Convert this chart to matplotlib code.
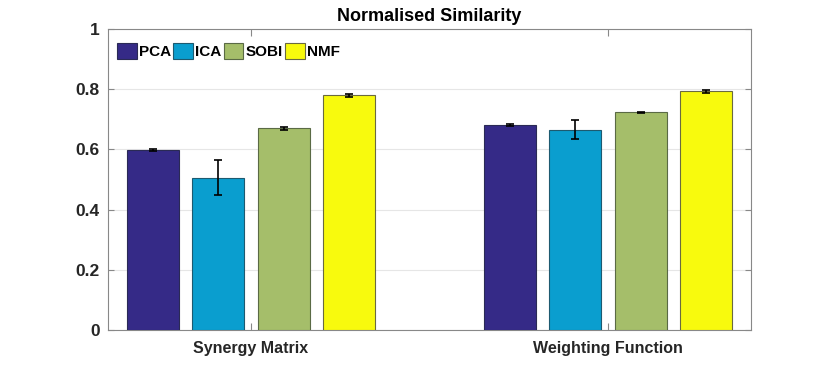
import matplotlib
matplotlib.use("Agg")
import matplotlib.pyplot as plt
import numpy as np

plt.rcParams["font.family"] = ["Liberation Sans", "DejaVu Sans"]

groups = ["Synergy Matrix", "Weighting Function"]
methods = ["PCA", "ICA", "SOBI", "NMF"]
values = {
    "PCA": [0.598, 0.681],
    "ICA": [0.506, 0.666],
    "SOBI": [0.670, 0.723],
    "NMF": [0.780, 0.794],
}
errors = {
    "PCA": [0.004, 0.002],
    "ICA": [0.058, 0.032],
    "SOBI": [0.005, 0.002],
    "NMF": [0.005, 0.005],
}
colors = ["#352a87", "#0a9ecf", "#a5be6a", "#f8fa0d"]
edgecolors = ["#2a2a55", "#1d5a70", "#5a6a45", "#6a6a40"]
yticks = [0, 0.2, 0.4, 0.6, 0.8, 1]
ytick_labels = ["0", "0.2", "0.4", "0.6", "0.8", "1"]

txt = "#262626"
fig = plt.figure(figsize=(8.3, 3.71), dpi=100)
ax = fig.add_axes([108/830, 1-330/371, (751-108)/830, (330-29)/371])

xc = np.arange(1, len(groups) + 1)
offsets = [-0.275, -0.092, 0.092, 0.275]
width = 0.146
for i, m in enumerate(methods):
    ax.bar(xc + offsets[i], values[m], width, color=colors[i], edgecolor=edgecolors[i],
           linewidth=0.8, label=m, zorder=3)
    ax.errorbar(xc + offsets[i], values[m], yerr=errors[m], fmt="none", ecolor="black",
                elinewidth=1.2, capsize=3, capthick=1.2, zorder=4)

ax.set_xlim(0.6, 2.4)
ax.set_ylim(0, 1)
ax.set_xticks(xc)
ax.set_xticklabels(groups, fontsize=11.5, fontweight="bold", color=txt)
ax.set_yticks(yticks)
ax.set_yticklabels(ytick_labels, fontsize=12.5, fontweight="bold", color=txt)
ax.tick_params(axis="both", direction="in", length=4, color="#888888", top=True, right=True, pad=6)
ax.tick_params(axis="x", length=5, pad=8)
ax.yaxis.grid(True, color="#e6e6e6", linewidth=0.8, zorder=0)
ax.set_axisbelow(True)
for s in ax.spines.values():
    s.set_color("#888888")
    s.set_linewidth(0.8)
ax.set_title("Normalised Similarity", fontsize=13, fontweight="bold", pad=6, color="black")

leg = ax.legend(loc="upper left", ncol=4, frameon=False,
                prop={"weight": "bold", "size": 11},
                handlelength=1.3, handleheight=1.25, handletextpad=0.15, columnspacing=0.12,
                borderaxespad=0.2, bbox_to_anchor=(0.0, 0.985))
for t in leg.get_texts():
    t.set_color("black")
fig.savefig("out.png", dpi=100)
